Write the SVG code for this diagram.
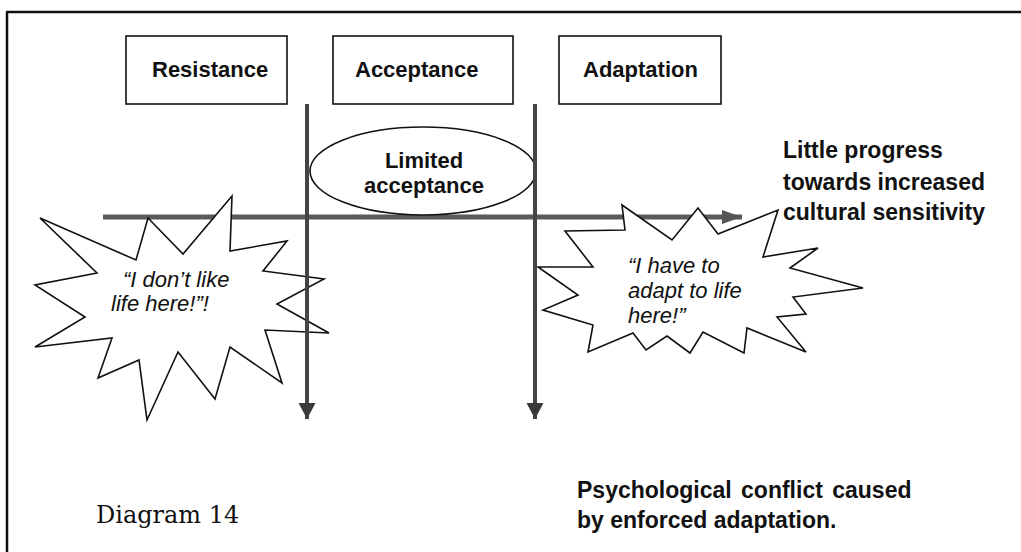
<svg xmlns="http://www.w3.org/2000/svg" width="1021" height="552" viewBox="0 0 1021 552">
  <style>
    .frame { fill: none; stroke: #111; stroke-width: 2.5; }
    .box { fill: #fff; stroke: #111; stroke-width: 1.6; }
    .burst { fill: #fff; stroke: #111; stroke-width: 1.6; stroke-linejoin: miter; }
    .axis { fill: none; stroke: #5a5a5a; stroke-width: 5; }
    .stage { fill: none; stroke: #444; stroke-width: 4; }
    .head { font-family: "Liberation Sans", Arial, sans-serif; font-weight: bold; font-size: 22px; fill: #111; }
    .note { font-family: "Liberation Sans", Arial, sans-serif; font-weight: bold; font-size: 23px; fill: #111; }
    .quote { font-family: "Liberation Sans", Arial, sans-serif; font-style: italic; font-size: 22px; fill: #111; }
    .caption { font-family: "DejaVu Serif", "Liberation Serif", serif; font-size: 24px; fill: #111; }
  </style>
  <defs>
    <marker id="arrow-down" markerUnits="userSpaceOnUse" markerWidth="18" markerHeight="18" refX="16" refY="8.5" orient="auto">
      <path d="M0,0 L16,8.5 L0,17 Z" fill="#3a3a3a"/>
    </marker>
    <marker id="arrow-right" markerUnits="userSpaceOnUse" markerWidth="22" markerHeight="16" refX="20" refY="7" orient="auto">
      <path d="M0,0 L20,7 L0,14 Z" fill="#555"/>
    </marker>
  </defs>

  <rect width="1021" height="552" fill="#fff"/>

  <!-- page frame (open to the right and bottom) -->
  <path class="frame" d="M6,12 H1021 M7,12 V552"/>

  <!-- stage headings -->
  <g id="box-resistance">
    <rect class="box" x="126" y="36" width="161" height="68"/>
    <text class="head" x="152" y="77">Resistance</text>
  </g>
  <g id="box-acceptance">
    <rect class="box" x="333" y="36" width="180" height="68"/>
    <text class="head" x="355" y="77">Acceptance</text>
  </g>
  <g id="box-adaptation">
    <rect class="box" x="559" y="36" width="162" height="68"/>
    <text class="head" x="583" y="77">Adaptation</text>
  </g>

  <!-- progress axis sits behind the speech bursts -->
  <g id="connectors-axis">
    <line class="axis" x1="103" y1="217" x2="742" y2="217" marker-end="url(#arrow-right)"/>
  </g>

  <g id="limited-acceptance">
    <ellipse class="box" cx="423" cy="171" rx="113" ry="44"/>
    <text class="head" x="424" y="168" text-anchor="middle">Limited</text>
    <text class="head" x="424" y="193" text-anchor="middle">acceptance</text>
  </g>

  <g id="burst-resistance">
    <polygon class="burst" points="40,218 136,260 148,218 183,254 232,196 230,251 287,241 263,271 324,279 277,304 329,333 265,330 282,383 230,347 215,399 178,352 147,420 139,360 98,378 112,338 35,347 85,317 35,285 97,273"/>
    <text class="quote" x="123" y="287">“I don’t like</text>
    <text class="quote" x="111" y="311">life here!”!</text>
  </g>

  <g id="burst-adaptation">
    <polygon class="burst" points="622,205 672,240 698,208 718,234 778,210 763,257 818,248 790,268 863,288 793,297 806,314 777,317 806,352 747,328 744,353 703,332 690,353 667,336 646,350 633,333 588,352 593,325 543,310 578,295 538,267 593,267 565,231 625,230"/>
    <text class="quote" x="628" y="273">“I have to</text>
    <text class="quote" x="628" y="298">adapt to life</text>
    <text class="quote" x="628" y="323">here!”</text>
  </g>

  <!-- stage boundaries -->
  <g id="connectors">
    <line class="stage" x1="307" y1="104" x2="307" y2="419" marker-end="url(#arrow-down)"/>
    <line class="stage" x1="535" y1="104" x2="535" y2="419" marker-end="url(#arrow-down)"/>
  </g>

  <g id="label-progress">
    <text class="note" x="783" y="158">Little progress</text>
    <text class="note" x="783" y="190">towards increased</text>
    <text class="note" x="783" y="220">cultural sensitivity</text>
  </g>

  <g id="label-conflict">
    <text class="note" x="577" y="498" word-spacing="3">Psychological conflict caused</text>
    <text class="note" x="577" y="528">by enforced adaptation.</text>
  </g>

  <g id="caption">
    <text class="caption" x="96" y="523">Diagram 14</text>
  </g>
</svg>
